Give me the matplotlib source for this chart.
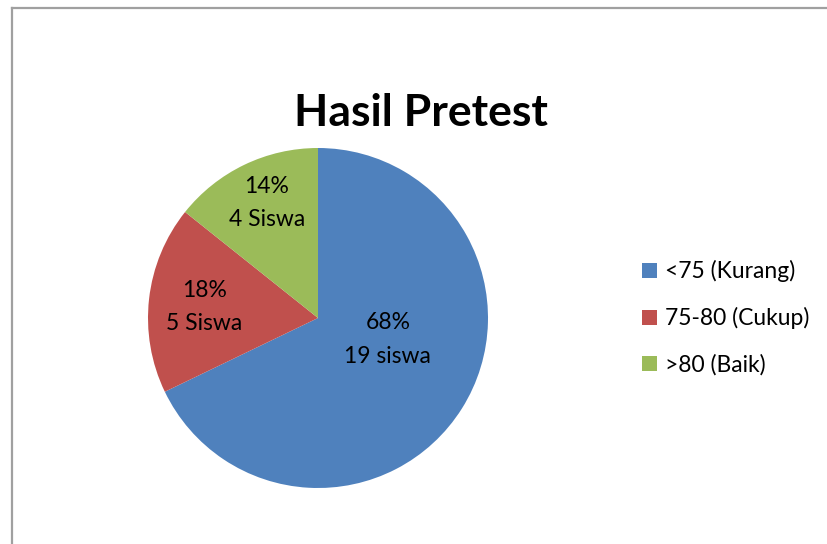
import matplotlib
matplotlib.use("Agg")
import matplotlib.pyplot as plt
import numpy as np
from matplotlib.patches import Patch
from matplotlib.lines import Line2D

# data
categories = ["<75 (Kurang)", "75-80 (Cukup)", ">80 (Baik)"]
counts = [19, 5, 4]
units = ["siswa", "Siswa", "Siswa"]
colors = ["#4F81BD", "#C0504D", "#9BBB59"]

plt.rcParams["font.family"] = ["Lato", "DejaVu Sans"]

W, H = 827, 544
fig = plt.figure(figsize=(W / 100, H / 100), dpi=100)

# chart border (cropped on right/bottom like the screenshot)
border = "#a0a0a0"
fig.add_artist(Line2D([11.5 / W, 11.5 / W], [0, 1 - 7.5 / H], color=border, lw=1.6,
                      transform=fig.transFigure))
fig.add_artist(Line2D([11.5 / W, 1], [1 - 7.5 / H, 1 - 7.5 / H], color=border, lw=1.6,
                      transform=fig.transFigure))

# pie axes: centre (318, 318), radius 170 px
cx, cy, r = 318, 318, 170
ax = fig.add_axes([(cx - r) / W, (H - cy - r) / H, 2 * r / W, 2 * r / H])
wedges, _ = ax.pie(counts, colors=colors, startangle=90, counterclock=False,
                   wedgeprops=dict(linewidth=0))
ax.set_xlim(-1, 1)
ax.set_ylim(-1, 1)
ax.set_aspect("equal")
ax.axis("off")

# label placement (radius fraction, angle) per slice
label_pos = [(0.43, -17), (0.67, 174.5), (0.74, 114)]
total = sum(counts)
for (rad, ang), v, u in zip(label_pos, counts, units):
    a = np.deg2rad(ang)
    ax.text(rad * np.cos(a), rad * np.sin(a), f"{round(v / total * 100)}%\n{v} {u}",
            ha="center", va="center", fontsize=16.5, linespacing=1.75, color="black")

fig.text(421 / W, 1 - 112.5 / H, "Hasil Pretest", ha="center", va="center",
         fontsize=32, fontweight="bold")

handles = [Patch(facecolor=c, edgecolor="none") for c in colors]
fig.legend(handles, categories, loc="center left", bbox_to_anchor=(621 / W, 1 - 318 / H),
           frameon=False, fontsize=16.5, handlelength=0.65, handleheight=0.65,
           handletextpad=0.35, labelspacing=1.08)

fig.savefig("out.png", dpi=100, facecolor="white")
